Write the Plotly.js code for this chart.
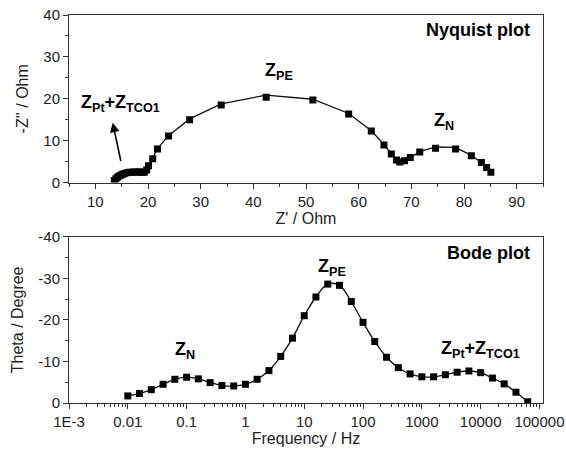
<!DOCTYPE html>
<html>
<head>
<meta charset="utf-8">
<script src="https://cdn.plot.ly/plotly-3.0.1.min.js"></script>
<style>html,body{margin:0;padding:0;background:#fff;}#chart{width:566px;height:450px;}</style>
</head>
<body>
<div id="chart"></div>
<script>
// Nyquist data (Z' / Ohm, -Z'' / Ohm)
const nyqZre = [13.6, 13.9, 14.2, 14.5, 14.9, 15.2, 15.5, 16.0, 16.5, 17.0, 17.4, 18.0, 18.4, 18.8, 19.3, 19.75, 20.1, 20.9, 21.8, 23.9, 27.9, 33.9, 42.45, 51.3, 58.1, 62.4, 64.8, 66.2, 67.2, 67.8, 68.7, 69.8, 71.6, 74.6, 78.4, 81.4, 83.3, 84.3, 85.1];
const nyqZim = [0.5, 0.9, 1.3, 1.6, 1.8, 2.0, 2.2, 2.35, 2.45, 2.5, 2.55, 2.55, 2.55, 2.5, 2.5, 3.0, 4.0, 5.7, 8.0, 11.1, 15.0, 18.5, 20.4, 19.7, 16.4, 12.3, 9.0, 6.85, 5.4, 4.9, 5.2, 6.0, 7.3, 8.2, 8.0, 6.4, 4.8, 3.6, 2.5];
// Nyquist fitted curve
const fitZre = [13.6, 14.5, 15.5, 17.0, 18.8, 19.75, 20.1, 20.9, 21.8, 23.9, 27.9, 33.9, 42.45, 51.3, 58.1, 62.4, 64.8, 66.2, 67.2, 67.9, 68.8, 69.8, 71.6, 74.6, 78.4, 81.4, 83.3, 84.3, 85.1];
const fitZim = [0.5, 1.7, 2.3, 2.6, 2.6, 3.0, 4.0, 5.8, 8.1, 11.2, 15.2, 18.8, 20.9, 19.9, 16.5, 12.4, 9.1, 6.9, 5.3, 4.8, 5.0, 5.9, 7.4, 8.5, 8.4, 6.5, 4.8, 3.6, 2.5];
// Bode data (Frequency / Hz, Theta / Degree)
const bodeFreq = [0.01, 0.0158, 0.0251, 0.0398, 0.0631, 0.1, 0.158, 0.251, 0.398, 0.631, 1, 1.58, 2.51, 3.98, 6.31, 10, 15.8, 25.1, 39.8, 63.1, 100, 158, 251, 398, 631, 1000, 1585, 2512, 3981, 6310, 10000, 15849, 25119, 39811, 63096];
const bodeTheta = [-1.7, -2.3, -3.2, -4.5, -5.7, -6.2, -5.8, -4.9, -4.2, -4.1, -4.5, -5.7, -7.8, -11.2, -15.6, -21.0, -25.5, -28.6, -28.3, -24.4, -19.4, -14.8, -11.0, -8.5, -7.0, -6.3, -6.3, -6.8, -7.4, -7.7, -7.3, -6.0, -4.6, -2.6, -0.3];
// tick labels
const nyqXTicks = [10, 20, 30, 40, 50, 60, 70, 80, 90];
const yTicks = [0, 10, 20, 30, 40];
const bodeXTickVals = [0.001, 0.01, 0.1, 1, 10, 100, 1000, 10000, 100000];
const bodeXTickText = ['1E-3', '0.01', '0.1', '1', '10', '100', '1000', '10000', '100000'];
const bodeYTickVals = [0, -10, -20, -30, -40];
const bodeYTickText = ['0', '-10', '-20', '-30', '-40'];

const minorLog = [];
for (let d = -3; d < 5; d++) for (let m = 2; m <= 9; m++) minorLog.push(m * Math.pow(10, d));

const FONT = 'Liberation Sans, Arial, sans-serif';
const ink = '#222';
const TICK = 15, TITLE = 16, LAB = 18;

const traces = [
  {x: fitZre, y: fitZim, mode: 'lines', line: {color: '#111', width: 1.3}, xaxis: 'x', yaxis: 'y', hoverinfo: 'skip'},
  {x: nyqZre, y: nyqZim, mode: 'markers', marker: {symbol: 'square', size: 7, color: '#000'}, xaxis: 'x', yaxis: 'y'},
  {x: bodeFreq, y: bodeTheta, mode: 'lines+markers', line: {color: '#111', width: 1.3, shape: 'spline', smoothing: 1},
   marker: {symbol: 'square', size: 7, color: '#000'}, xaxis: 'x2', yaxis: 'y2'}
];

const axisCommon = {
  showline: true, mirror: true, linecolor: '#333', linewidth: 1,
  ticks: 'outside', ticklen: 5, tickcolor: '#333', tickwidth: 1,
  showgrid: false, zeroline: false,
  tickfont: {family: FONT, size: TICK, color: ink}
};

const layout = {
  width: 566, height: 450,
  margin: {l: 69, r: 23, t: 15, b: 47},
  paper_bgcolor: '#fff', plot_bgcolor: '#fff',
  showlegend: false,
  font: {family: FONT, color: ink},
  xaxis: Object.assign({}, axisCommon, {
    domain: [0, 1], anchor: 'y', range: [5, 95],
    tickmode: 'array', tickvals: nyqXTicks,
    minor: {tickmode: 'linear', tick0: 5, dtick: 5, ticks: 'outside', ticklen: 3, tickcolor: '#333', showgrid: false},
    title: {text: "Z' / Ohm", font: {family: FONT, size: TITLE, color: ink}, standoff: 2}
  }),
  yaxis: Object.assign({}, axisCommon, {
    domain: [0.568, 1], anchor: 'x', range: [0, 40],
    tickmode: 'array', tickvals: yTicks,
    minor: {tickmode: 'linear', tick0: 5, dtick: 5, ticks: 'outside', ticklen: 3, tickcolor: '#333', showgrid: false},
    title: {text: "-Z'' / Ohm", font: {family: FONT, size: TITLE, color: ink}, standoff: 10}
  }),
  xaxis2: Object.assign({}, axisCommon, {
    domain: [0, 1], anchor: 'y2', type: 'log', range: [-3, 5.06],
    tickmode: 'array', tickvals: bodeXTickVals, ticktext: bodeXTickText,
    minor: {tickmode: 'array', tickvals: minorLog, ticks: 'outside', ticklen: 3, tickcolor: '#333', showgrid: false},
    title: {text: 'Frequency / Hz', font: {family: FONT, size: TITLE, color: ink}, standoff: 2}
  }),
  yaxis2: Object.assign({}, axisCommon, {
    domain: [0, 0.4286], anchor: 'x2', range: [0, -40],
    tickmode: 'array', tickvals: bodeYTickVals, ticktext: bodeYTickText,
    minor: {tickmode: 'linear', tick0: -5, dtick: 5, ticks: 'outside', ticklen: 3, tickcolor: '#333', showgrid: false},
    title: {text: 'Theta / Degree', font: {family: FONT, size: TITLE, color: ink}, standoff: 10}
  }),
  annotations: [
    {xref: 'x domain', yref: 'y domain', x: 0.977, y: 0.91, xanchor: 'right', yanchor: 'middle', showarrow: false,
     text: '<b>Nyquist plot</b>', font: {family: FONT, size: LAB, color: '#000'}},
    {xref: 'x2 domain', yref: 'y2 domain', x: 0.977, y: 0.904, xanchor: 'right', yanchor: 'middle', showarrow: false,
     text: '<b>Bode plot</b>', font: {family: FONT, size: LAB, color: '#000'}},
    {xref: 'x', yref: 'y', x: 44.8, y: 26.6, showarrow: false, text: '<b>Z<sub>PE</sub></b>', font: {family: FONT, size: LAB, color: '#000'}},
    {xref: 'x', yref: 'y', x: 76.2, y: 14.6, showarrow: false, text: '<b>Z<sub>N</sub></b>', font: {family: FONT, size: LAB, color: '#000'}},
    {xref: 'x', yref: 'y', x: 14.8, y: 18.8, showarrow: false, text: '<b>Z<sub>Pt</sub>+Z<sub>TCO1</sub></b>', font: {family: FONT, size: LAB, color: '#000'}},
    {xref: 'x', yref: 'y', x: 13.3, y: 14.3, axref: 'x', ayref: 'y', ax: 14.9, ay: 4.8, showarrow: true, text: '',
     arrowhead: 2, arrowsize: 1.2, arrowwidth: 1.6, arrowcolor: '#000'},
    {xref: 'x2', yref: 'y2', x: Math.log10(30), y: -32.5, showarrow: false, text: '<b>Z<sub>PE</sub></b>', font: {family: FONT, size: LAB, color: '#000'}},
    {xref: 'x2', yref: 'y2', x: Math.log10(0.093), y: -12.6, showarrow: false, text: '<b>Z<sub>N</sub></b>', font: {family: FONT, size: LAB, color: '#000'}},
    {xref: 'x2', yref: 'y2', x: Math.log10(10000), y: -12.85, showarrow: false, text: '<b>Z<sub>Pt</sub>+Z<sub>TCO1</sub></b>', font: {family: FONT, size: LAB, color: '#000'}}
  ]
};

Plotly.newPlot('chart', traces, layout, {staticPlot: true, displayModeBar: false});
</script>
</body>
</html>
